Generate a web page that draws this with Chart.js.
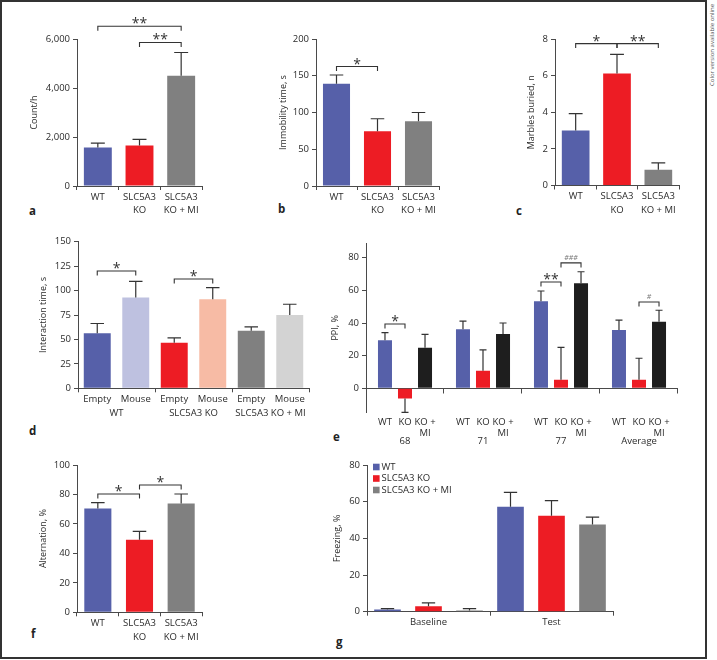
<!DOCTYPE html>
<html><head><meta charset="utf-8">
<script src="https://cdn.jsdelivr.net/npm/chart.js@4/dist/chart.umd.min.js"></script>
<style>
html,body{margin:0;padding:0;background:#fff;}
#fig{position:relative;width:717px;height:660px;overflow:hidden;background:#fff;font-family:'Open Sans',sans-serif;}
#frame{position:absolute;left:0;top:0;width:703px;height:655px;border:2px solid #333;}
canvas{position:absolute;}
.pl{position:absolute;font-weight:bold;font-size:11.5px;color:#222;line-height:12px;}
#side{position:absolute;left:708px;top:86px;transform-origin:0 0;transform:rotate(-90deg);font-size:6px;line-height:8px;white-space:nowrap;color:#555;}
</style></head>
<body><div id="fig"><div id="frame"></div>
<div class="pl" style="left:29px;top:205px">a</div>
<div class="pl" style="left:278px;top:203px">b</div>
<div class="pl" style="left:516px;top:205px">c</div>
<div class="pl" style="left:29px;top:425px">d</div>
<div class="pl" style="left:333px;top:431px">e</div>
<div class="pl" style="left:31px;top:628px">f</div>
<div class="pl" style="left:336px;top:636px">g</div>
<div id="side">Color version available online</div>
</div>
<script>
// ---------- data ----------
const grpLabels3 = [["WT"], ["SLC5A3", "KO"], ["SLC5A3", "KO + MI"]];

const aMeans = [1570, 1650, 4500];
const aSEM = [180, 250, 950];
const aTicks = [0, 2000, 4000, 6000];
const aSig = [{from:[0,0], to:[0,2], y:6520, text:'**'}, {from:[0,1], to:[0,2], y:5860, text:'**'}];

const bMeans = [139, 74.5, 88];
const bSEM = [12, 17, 12];
const bTicks = [0, 50, 100, 150, 200];
const bSig = [{from:[0,0], to:[0,1], y:162.5, text:'*'}];

const cMeans = [3.01, 6.12, 0.86];
const cSEM = [0.92, 1.04, 0.38];
const cTicks = [0, 2, 4, 6, 8];
const cSig = [{from:[0,0], to:[0,1], y:7.75, text:'*'}, {from:[0,1], to:[0,2], y:7.75, text:'**'}];

const dGroups = ["WT", "SLC5A3 KO", "SLC5A3 KO + MI"];
const dBarNames = ["Empty", "Mouse"];
const dEmpty = [56.3, 46.7, 59];
const dEmptySEM = [10, 4.8, 3.8];
const dMouse = [93, 91, 75];
const dMouseSEM = [16.5, 12, 11];
const dTicks = [0, 25, 50, 75, 100, 125, 150];
const dSig = [{from:[0,0], to:[1,0], y:120, text:'*'}, {from:[0,1], to:[1,1], y:111.8, text:'*'}];

const eGroups = ["68", "71", "77", "Average"];
const eBarNames = [["WT"], ["KO"], ["KO +", "MI"]];
const eWT = [29.4, 36.1, 53.3, 35.7];
const eWTSEM = [4.7, 5.1, 6.3, 6.1];
const eKO = [-6.3, 10.8, 5.3, 5.3];
const eKOSEM = [8.4, 12.7, 19.8, 13.1];
const eMI = [24.9, 33.3, 64.3, 40.8];
const eMISEM = [8.1, 6.7, 7.1, 7.0];
const eTicks = [0, 20, 40, 60, 80];
const eSig = [{from:[0,0], to:[1,0], y:39.4, text:'*'}, {from:[0,2], to:[1,2], y:65.1, text:'**'},
              {from:[1,2], to:[2,2], y:76.8, text:'###', small:true}, {from:[1,3], to:[2,3], y:52.9, text:'#', small:true}];

const fMeans = [70.4, 49.3, 73.8];
const fSEM = [4.0, 5.7, 6.5];
const fTicks = [0, 20, 40, 60, 80, 100];
const fSig = [{from:[0,0], to:[0,1], y:80.3, text:'*'}, {from:[0,1], to:[0,2], y:86.4, text:'*'}];

const gGroups = ["Baseline", "Test"];
const gSeries = ["WT", "SLC5A3 KO", "SLC5A3 KO + MI"];
const gWT = [1.2, 57.3];
const gWTSEM = [0.5, 7.8];
const gKO = [3.0, 52.3];
const gKOSEM = [1.8, 8.3];
const gMI = [0.6, 47.5];
const gMISEM = [1.1, 4.1];
const gTicks = [0, 20, 40, 60, 80];

// ---------- styles ----------
const BLUE = '#5660a9', RED = '#ed1c24', GRAY = '#808080', BLACK = '#1e1e1e',
      LAV = '#bec1e0', PEACH = '#f7bba5', LGRAY = '#d3d3d3';
const AX = '#4a4a4a', TXT = '#2b2b2b', ERR = '#333';
const FAM = "'Open Sans', sans-serif";
const fig = document.getElementById('fig');

const errorBars = {
  id: 'errorBars',
  afterDatasetsDraw(chart) {
    const ctx = chart.ctx, ys = chart.scales.y;
    chart.data.datasets.forEach((ds, i) => {
      if (!ds.sem) return;
      const meta = chart.getDatasetMeta(i);
      meta.data.forEach((el, j) => {
        const v = ds.data[j], s = ds.sem[j];
        const end = ys.getPixelForValue(v + (v < 0 ? -s : s));
        const cw = el.width * 0.5;
        ctx.save();
        ctx.strokeStyle = ERR; ctx.lineWidth = 1.2;
        ctx.beginPath();
        ctx.moveTo(el.x, el.y); ctx.lineTo(el.x, end);
        ctx.moveTo(el.x - cw / 2, end); ctx.lineTo(el.x + cw / 2, end);
        ctx.stroke(); ctx.restore();
      });
    });
  }
};

function sigPlugin(items) {
  return {
    id: 'sig',
    afterDatasetsDraw(chart) {
      const ctx = chart.ctx, ys = chart.scales.y;
      items.forEach(b => {
        const x1 = chart.getDatasetMeta(b.from[0]).data[b.from[1]].x;
        const x2 = chart.getDatasetMeta(b.to[0]).data[b.to[1]].x;
        const y = ys.getPixelForValue(b.y);
        ctx.save();
        ctx.strokeStyle = '#333'; ctx.lineWidth = 1.1;
        ctx.beginPath();
        ctx.moveTo(x1, y + 4.5); ctx.lineTo(x1, y); ctx.lineTo(x2, y); ctx.lineTo(x2, y + 4.5);
        ctx.stroke();
        ctx.textAlign = 'center'; ctx.textBaseline = 'alphabetic';
        if (b.small) {
          ctx.font = 'italic 7px ' + FAM; ctx.fillStyle = '#777';
          ctx.fillText(b.text, (x1 + x2) / 2, y - 3);
        } else {
          ctx.font = '14px ' + FAM; ctx.fillStyle = '#333';
          ctx.fillText(b.text, (x1 + x2) / 2, y + 2);
        }
        ctx.restore();
      });
    }
  };
}

function barLabels(names, dy1, dy2) {
  return {
    id: 'barLabels',
    afterDraw(chart) {
      const ctx = chart.ctx, ca = chart.chartArea;
      ctx.save();
      ctx.font = '9.5px ' + FAM; ctx.fillStyle = TXT; ctx.textAlign = 'center'; ctx.textBaseline = 'middle';
      chart.data.datasets.forEach((ds, i) => {
        chart.getDatasetMeta(i).data.forEach(el => {
          const lines = [].concat(names[i]);
          lines.forEach((t, k) => ctx.fillText(t, el.x, ca.bottom + (k === 0 ? dy1 : dy2)));
        });
      });
      ctx.restore();
    }
  };
}

const zeroLine = {
  id: 'zeroLine',
  beforeDatasetsDraw(chart) {
    const ctx = chart.ctx, ca = chart.chartArea, y0 = Math.round(chart.scales.y.getPixelForValue(0)) + 0.5;
    const n = chart.data.labels.length;
    ctx.save(); ctx.strokeStyle = AX; ctx.lineWidth = 1;
    ctx.beginPath(); ctx.moveTo(ca.left, y0); ctx.lineTo(ca.right, y0);
    for (let i = 1; i <= n; i++) {
      const x = Math.round(ca.left + i * ca.width / n) - 0.5;
      ctx.moveTo(x, y0); ctx.lineTo(x, y0 + 5);
    }
    ctx.stroke(); ctx.restore();
  }
};

const legendG = {
  id: 'legendG',
  afterDraw(chart) {
    const ctx = chart.ctx, ca = chart.chartArea;
    ctx.save(); ctx.font = '9.5px ' + FAM; ctx.textBaseline = 'middle'; ctx.textAlign = 'left';
    chart.data.datasets.forEach((ds, i) => {
      const y = ca.top + 2 + i * 11.5;
      ctx.fillStyle = ds.backgroundColor; ctx.fillRect(ca.left + 6, y - 3.3, 6.6, 6.6);
      ctx.fillStyle = TXT; ctx.fillText(ds.label, ca.left + 14.5, y);
    });
    ctx.restore();
  }
};

function makeChart(c) {
  const r = c.rect;
  const cl = r.l - 60;
  const ct = Math.floor(r.t) - 30;
  const padTop = r.t - ct;
  const W = Math.ceil(r.r) + 14 - cl;
  const padRight = cl + W - r.r;
  const H = Math.ceil(r.b) + 45 - ct;
  const xH = ct + H - r.b;
  const cv = document.createElement('canvas');
  cv.width = W; cv.height = H;
  cv.style.left = cl + 'px'; cv.style.top = ct + 'px';
  cv.style.width = W + 'px'; cv.style.height = H + 'px';
  fig.appendChild(cv);
  const titlePad = c.titleC - cl - 5.4;
  const hideX = !!c.hideXAxis;
  new Chart(cv, {
    type: 'bar',
    data: { labels: c.labels, datasets: c.datasets },
    options: {
      responsive: false, animation: false, devicePixelRatio: 1,
      layout: { padding: { left: 0, top: padTop, right: padRight, bottom: 0 } },
      datasets: { bar: { categoryPercentage: c.catPct, barPercentage: c.barPct, borderWidth: 0 } },
      plugins: { legend: { display: false }, tooltip: { enabled: false } },
      scales: {
        x: {
          type: 'category', offset: true,
          grid: { display: !hideX, offset: true, drawOnChartArea: false, drawTicks: !hideX, tickLength: 4, color: AX, lineWidth: 1 },
          border: { display: !hideX, color: AX, width: 1 },
          ticks: { font: { family: FAM, size: 9.5, lineHeight: 1.45 }, color: TXT, padding: c.xPad, maxRotation: 0, minRotation: 0, autoSkip: false },
          afterFit: s => { s.height = xH; }
        },
        y: {
          min: c.min, max: c.max,
          afterBuildTicks: s => { s.ticks = c.ticks.map(v => ({ value: v })); },
          grid: { drawOnChartArea: false, drawTicks: true, tickLength: 4, color: AX, lineWidth: 1 },
          border: { display: true, color: AX, width: 1 },
          ticks: { font: { family: FAM, size: 9.5 }, color: TXT, padding: 3,
                   callback: v => Number(v).toLocaleString('en-US') },
          title: { display: true, text: c.yTitle, font: { family: FAM, size: 9 }, color: TXT, padding: { top: titlePad, bottom: 0 } },
          afterFit: s => { s.width = 60; }
        }
      }
    },
    plugins: [errorBars, sigPlugin(c.sig || [])].concat(c.extra || [])
  });
}

function single(means, sem) {
  return [{ data: means, sem: sem, backgroundColor: [BLUE, RED, GRAY] }];
}

makeChart({ rect: {l:77, t:39, r:202, b:186}, titleC: 34, yTitle: 'Count/h', min: 0, max: 6000, ticks: aTicks,
  labels: grpLabels3, datasets: single(aMeans, aSEM), catPct: 1, barPct: 0.67, xPad: 0, sig: aSig });

makeChart({ rect: {l:316, t:39, r:439, b:186}, titleC: 283, yTitle: 'Immobility time, s', min: 0, max: 200, ticks: bTicks,
  labels: grpLabels3, datasets: single(bMeans, bSEM), catPct: 1, barPct: 0.66, xPad: 0, sig: bSig });

makeChart({ rect: {l:555, t:39, r:679, b:185.5}, titleC: 531, yTitle: ['Marbles buried, n'], min: 0, max: 8, ticks: cTicks,
  labels: grpLabels3, datasets: single(cMeans, cSEM), catPct: 1, barPct: 0.67, xPad: 0, sig: cSig });

makeChart({ rect: {l:78, t:241.7, r:309, b:388.3}, titleC: 43, yTitle: 'Interaction time, s', min: 0, max: 150, ticks: dTicks,
  labels: dGroups,
  datasets: [
    { label: dBarNames[0], data: dEmpty, sem: dEmptySEM, backgroundColor: [BLUE, RED, GRAY] },
    { label: dBarNames[1], data: dMouse, sem: dMouseSEM, backgroundColor: [LAV, PEACH, LGRAY] }
  ],
  catPct: 1, barPct: 0.7, xPad: 14, sig: dSig, extra: [barLabels(dBarNames, 10.7, 10.7)] });

makeChart({ rect: {l:366, t:243, r:678, b:412.8}, titleC: 335, yTitle: 'PPI, %', min: -15, max: 89, ticks: eTicks,
  labels: eGroups, hideXAxis: true,
  datasets: [
    { label: 'WT', data: eWT, sem: eWTSEM, backgroundColor: BLUE },
    { label: 'KO', data: eKO, sem: eKOSEM, backgroundColor: RED },
    { label: 'KO + MI', data: eMI, sem: eMISEM, backgroundColor: BLACK }
  ],
  catPct: 0.77, barPct: 0.7, xPad: 21.3, sig: eSig, extra: [zeroLine, barLabels(eBarNames, 9.2, 20.2)] });

makeChart({ rect: {l:77, t:465, r:202, b:612.3}, titleC: 43, yTitle: 'Alternation, %', min: 0, max: 100, ticks: fTicks,
  labels: grpLabels3, datasets: single(fMeans, fSEM), catPct: 1, barPct: 0.65, xPad: 0, sig: fSig });

makeChart({ rect: {l:367, t:465, r:613, b:611.7}, titleC: 337, yTitle: 'Freezing, %', min: 0, max: 80, ticks: gTicks,
  labels: gGroups,
  datasets: [
    { label: gSeries[0], data: gWT, sem: gWTSEM, backgroundColor: BLUE },
    { label: gSeries[1], data: gKO, sem: gKOSEM, backgroundColor: RED },
    { label: gSeries[2], data: gMI, sem: gMISEM, backgroundColor: GRAY }
  ],
  catPct: 1, barPct: 0.65, xPad: 0, sig: [], extra: [legendG] });
</script>
</body></html>
